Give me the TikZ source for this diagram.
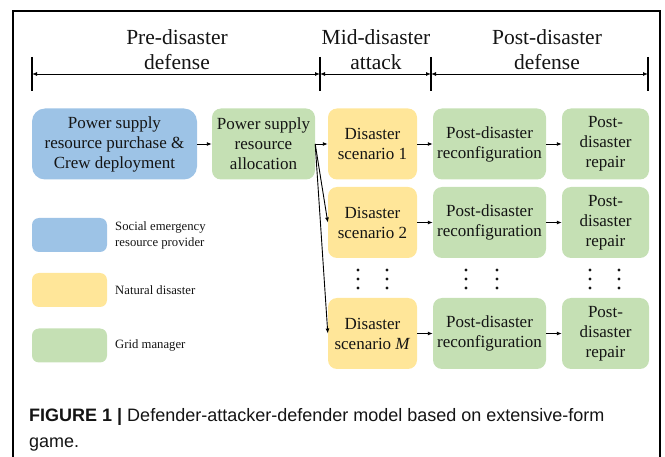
\documentclass[tikz,border=0pt]{standalone}
\usepackage{fontspec}
\setmainfont{Liberation Serif}
\newfontfamily\capfont{Liberation Sans}
\usetikzlibrary{arrows.meta}
\definecolor{provblue}{RGB}{157,195,230}
\definecolor{natyellow}{RGB}{255,230,153}
\definecolor{gridgreen}{RGB}{197,224,180}
\definecolor{inktext}{RGB}{20,20,20}
\begin{document}
\begin{tikzpicture}[x=1pt,y=-1pt,
  box/.style={rounded corners=9pt, inner sep=0pt, align=center, text=inktext,
    font=\fontsize{17}{20}\selectfont, minimum height=71pt},
  provider/.style={box, fill=provblue, rounded corners=13pt},
  disaster/.style={box, fill=natyellow},
  manager/.style={box, fill=gridgreen},
  legbox/.style={rounded corners=7pt, minimum width=75pt, minimum height=34pt, inner sep=0pt},
  legtext/.style={anchor=west, align=left, inner sep=0pt, text=inktext,
    font=\fontsize{12.7}{16}\selectfont},
  phase/.style={align=center, inner sep=0pt, text=inktext,
    font=\fontsize{21.5}{25}\selectfont},
  tick/.style={line width=1.3pt},
  span/.style={line width=0.9pt, {Latex[length=5pt,width=4pt]}-{Latex[length=5pt,width=4pt]}},
  flow/.style={line width=0.9pt, -{Latex[length=5pt,width=4pt]}},
]
\useasboundingbox (0,0) rectangle (665,457);

% outer frame, open at the bottom
\draw[line width=1.2pt] (13,457) -- (13,11) -- (660,11) -- (660,457);

% phase markers on the time line
\foreach \n/\x in {a/32, b/320, c/431, d/648} {
  \coordinate (t\n top) at (\x,57);
  \coordinate (t\n bot) at (\x,91);
  \coordinate (t\n) at (\x,74);
  \draw[tick] (t\n top) -- (t\n bot);
}
\draw[span] (ta) -- (tb);
\draw[span] (tb) -- (tc);
\draw[span] (tc) -- (td);

\node[phase] (pre)  at (177,50) {Pre-disaster\\defense};
\node[phase] (mid)  at (376,50) {Mid-disaster\\attack};
\node[phase] (post) at (547,50) {Post-disaster\\defense};

% decision stages
\node[provider, minimum width=165pt] (buy) at (114.5,144) {Power supply\\resource purchase \&\\Crew deployment};
\node[manager, minimum width=103pt] (alloc) at (263.5,144) {Power supply\\resource\\allocation};

\foreach \r/\y/\lab in {1/144/1, 2/222.5/2, m/333.5/\textit{M}} {
  \node[disaster, minimum width=89pt] (scen\r) at (372.5,\y) {Disaster\\scenario \lab};
  \node[manager, minimum width=113pt] (reconf\r) at (489.5,\y) {Post-disaster\\reconfiguration};
  \node[manager, minimum width=87pt] (repair\r) at (605.5,\y) {Post-\\disaster\\repair};
  \draw[flow] (scen\r) -- (reconf\r);
  \draw[flow] (reconf\r) -- (repair\r);
}

\draw[flow] (buy) -- (alloc);
\draw[flow] (alloc.east) -- (scen1.west);
\draw[flow] (alloc.east) -- (scen2.west);
\draw[flow] (alloc.east) -- (scenm.west);

% vertical ellipses between the second and last scenario rows
\foreach \x in {358,387,466,497,590,619}
  \foreach \y in {270,279,288}
    \fill[inktext] (\x,\y) circle (1.7pt);

% legend
\node[legbox, fill=provblue]  (legA) at (69.5,235) {};
\node[legbox, fill=natyellow] (legB) at (69.5,290) {};
\node[legbox, fill=gridgreen] (legC) at (69.5,345.5) {};
\node[legtext] (legAt) at (115,235) {Social emergency\\resource provider};
\node[legtext] (legBt) at (115,290) {Natural disaster};
\node[legtext] (legCt) at (115,345.5) {Grid manager};

% caption (base anchor sits on the last line)
\node[anchor=base west, align=left, inner sep=0pt, text=inktext,
  font=\capfont\fontsize{18}{25}\selectfont] (cap) at (29,447)
  {\textbf{FIGURE 1 |} Defender-attacker-defender model based on extensive-form\\game.};
\end{tikzpicture}
\end{document}
